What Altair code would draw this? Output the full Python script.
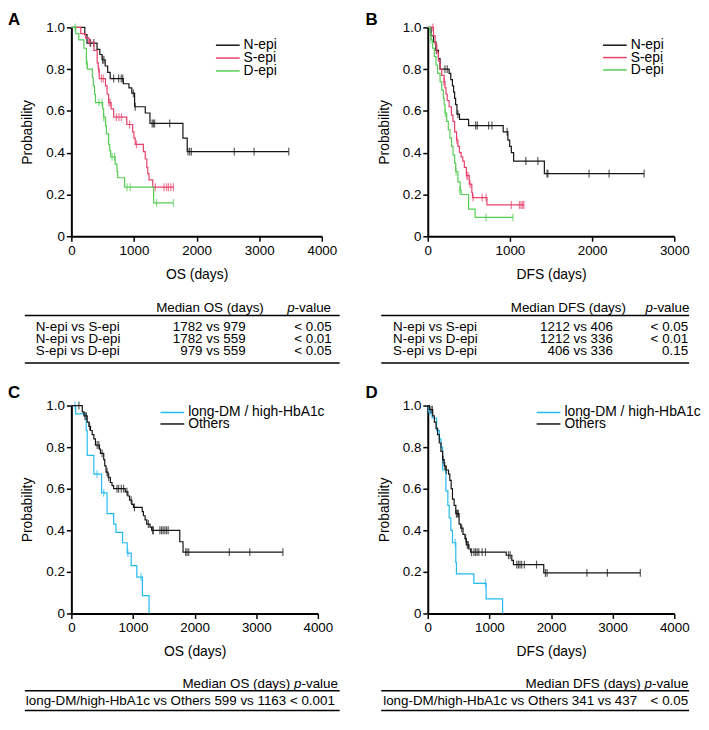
import altair as alt
import pandas as pd

FONT = "Liberation Sans"

# ---------------- Panel A : OS by epi group ----------------
A_N_t = [0, 215, 250, 410, 455, 490, 540, 580, 620, 830, 920, 965, 1010, 1180, 1255, 1782, 1850, 3470]
A_N_s = [1.0, 0.965, 0.925, 0.895, 0.87, 0.845, 0.815, 0.785, 0.755, 0.73, 0.71, 0.685, 0.62, 0.59, 0.54, 0.47, 0.405, 0.405]
A_N_ct = [306, 359, 500, 520, 675, 755, 797, 820, 990, 1020, 1290, 1310, 1330, 1570, 1863, 1889, 1916, 2602, 2918, 3472]
A_N_cs = [0.925, 0.925, 0.845, 0.845, 0.755, 0.755, 0.755, 0.755, 0.685, 0.62, 0.54, 0.54, 0.54, 0.54, 0.405, 0.405, 0.405, 0.405, 0.405, 0.405]

A_S_t = [0, 150, 225, 280, 360, 412, 430, 445, 545, 570, 595, 635, 675, 885, 979, 1000, 1020, 1150, 1180, 1205, 1220, 1240, 1300, 1630]
A_S_s = [1.0, 0.97, 0.95, 0.93, 0.89, 0.83, 0.80, 0.755, 0.72, 0.68, 0.64, 0.61, 0.57, 0.535, 0.50, 0.47, 0.44, 0.405, 0.37, 0.33, 0.30, 0.27, 0.235, 0.235]
A_S_ct = [290, 435, 480, 510, 600, 620, 720, 760, 800, 930, 1040, 1340, 1480, 1520, 1550, 1590, 1630]
A_S_cs = [0.93, 0.80, 0.755, 0.755, 0.64, 0.64, 0.57, 0.57, 0.57, 0.535, 0.44, 0.235, 0.235, 0.235, 0.235, 0.235, 0.235]

A_D_t = [0, 70, 120, 200, 240, 255, 335, 350, 370, 385, 500, 515, 545, 559, 595, 612, 628, 700, 728, 740, 850, 1314, 1620]
A_D_s = [1.0, 0.97, 0.94, 0.90, 0.825, 0.80, 0.76, 0.72, 0.68, 0.64, 0.61, 0.57, 0.53, 0.49, 0.44, 0.41, 0.38, 0.345, 0.31, 0.28, 0.235, 0.16, 0.16]
A_D_ct = [60, 253, 440, 490, 517, 650, 690, 890, 940, 1360, 1630]
A_D_cs = [1.0, 0.825, 0.64, 0.64, 0.57, 0.38, 0.38, 0.235, 0.235, 0.16, 0.16]

# ---------------- Panel B : DFS by epi group ----------------
B_N_t = [0, 40, 70, 100, 130, 150, 260, 280, 300, 315, 327, 339, 355, 386, 497, 918, 975, 997, 1017, 1045, 1419, 2633]
B_N_s = [1.0, 0.96, 0.93, 0.89, 0.85, 0.80, 0.78, 0.75, 0.72, 0.69, 0.66, 0.63, 0.585, 0.56, 0.53, 0.50, 0.46, 0.43, 0.40, 0.36, 0.30, 0.30]
B_N_ct = [105, 209, 237, 367, 583, 603, 741, 781, 966, 1194, 1340, 1451, 1462, 1963, 2207, 2633]
B_N_cs = [0.89, 0.80, 0.80, 0.585, 0.53, 0.53, 0.53, 0.53, 0.50, 0.36, 0.36, 0.30, 0.30, 0.30, 0.30, 0.30]

B_S_t = [0, 70, 90, 110, 130, 150, 170, 200, 210, 222, 237, 260, 288, 307, 327, 350, 367, 386, 406, 426, 445, 470, 505, 536, 544, 720, 1170]
B_S_s = [1.0, 0.96, 0.92, 0.88, 0.84, 0.80, 0.77, 0.74, 0.71, 0.68, 0.65, 0.62, 0.58, 0.55, 0.50, 0.46, 0.43, 0.40, 0.38, 0.36, 0.33, 0.29, 0.25, 0.21, 0.185, 0.15, 0.15]
B_S_ct = [63, 195, 355, 475, 490, 515, 552, 662, 710, 1017, 1116, 1135, 1155, 1170]
B_S_cs = [1.0, 0.74, 0.46, 0.29, 0.29, 0.25, 0.185, 0.185, 0.185, 0.15, 0.15, 0.15, 0.15, 0.15]

B_D_t = [0, 24, 40, 60, 80, 100, 120, 150, 170, 190, 200, 210, 230, 250, 270, 290, 307, 327, 340, 367, 394, 406, 497, 576, 1037]
B_D_s = [1.0, 0.97, 0.94, 0.90, 0.86, 0.82, 0.78, 0.74, 0.70, 0.66, 0.63, 0.59, 0.55, 0.51, 0.47, 0.43, 0.39, 0.35, 0.31, 0.26, 0.22, 0.20, 0.13, 0.09, 0.09]
B_D_ct = [39, 215, 345, 390, 710, 1037]
B_D_cs = [0.94, 0.59, 0.31, 0.22, 0.09, 0.09]

# ---------------- Panel C : OS by DM status ----------------
C_L_t = [0, 70, 241, 257, 365, 490, 579, 686, 724, 831, 906, 971, 1062, 1153, 1260]
C_L_s = [1.0, 0.96, 0.88, 0.76, 0.67, 0.58, 0.48, 0.43, 0.39, 0.34, 0.29, 0.23, 0.175, 0.086, 0.0]
C_L_ct = [59, 418, 525, 917, 1131]
C_L_cs = [1.0, 0.67, 0.58, 0.29, 0.175]

C_O_t = [0, 177, 204, 257, 284, 311, 338, 365, 391, 456, 472, 525, 542, 563, 595, 633, 660, 686, 874, 917, 944, 981, 1008, 1150, 1169, 1196, 1223, 1276, 1303, 1759, 1812, 3432]
C_O_s = [1.0, 0.97, 0.95, 0.92, 0.90, 0.88, 0.86, 0.84, 0.81, 0.79, 0.77, 0.74, 0.71, 0.68, 0.655, 0.63, 0.615, 0.60, 0.585, 0.565, 0.545, 0.525, 0.51, 0.49, 0.47, 0.45, 0.43, 0.415, 0.40, 0.345, 0.295, 0.295]
C_O_ct = [123, 220, 241, 295, 418, 445, 499, 579, 606, 740, 767, 810, 847, 901, 971, 1024, 1249, 1319, 1330, 1437, 1464, 1490, 1517, 1544, 1571, 1855, 1877, 1904, 2563, 2896, 3432]
C_O_cs = [1.0, 0.95, 0.95, 0.90, 0.81, 0.81, 0.77, 0.68, 0.655, 0.60, 0.60, 0.60, 0.60, 0.585, 0.545, 0.51, 0.43, 0.40, 0.40, 0.40, 0.40, 0.40, 0.40, 0.40, 0.40, 0.295, 0.295, 0.295, 0.295, 0.295, 0.295]

# ---------------- Panel D : DFS by DM status ----------------
D_L_t = [0, 16, 70, 144, 187, 214, 241, 294, 326, 348, 374, 401, 455, 465, 749, 947, 1214]
D_L_s = [1.0, 0.97, 0.94, 0.88, 0.84, 0.80, 0.69, 0.59, 0.52, 0.46, 0.40, 0.34, 0.245, 0.19, 0.145, 0.07, 0.0]
D_L_ct = [37, 444, 936]
D_L_cs = [0.97, 0.34, 0.145]

D_O_t = [0, 27, 80, 107, 134, 160, 187, 214, 241, 267, 294, 337, 358, 380, 401, 428, 455, 508, 535, 572, 604, 626, 668, 695, 1273, 1364, 1390, 1882, 3449]
D_O_s = [1.0, 0.98, 0.95, 0.92, 0.89, 0.86, 0.82, 0.78, 0.74, 0.71, 0.69, 0.67, 0.64, 0.60, 0.55, 0.52, 0.48, 0.43, 0.41, 0.38, 0.36, 0.33, 0.31, 0.295, 0.28, 0.255, 0.235, 0.195, 0.195]
D_O_ct = [53, 75, 250, 275, 300, 465, 481, 497, 551, 615, 642, 658, 711, 749, 775, 802, 829, 882, 936, 1310, 1337, 1444, 1471, 1497, 1524, 1567, 1765, 1909, 1936, 2583, 2915, 3449]
D_O_cs = [0.98, 0.98, 0.74, 0.71, 0.69, 0.48, 0.48, 0.48, 0.41, 0.36, 0.33, 0.33, 0.295, 0.295, 0.295, 0.295, 0.295, 0.295, 0.295, 0.28, 0.28, 0.235, 0.235, 0.235, 0.235, 0.235, 0.235, 0.195, 0.195, 0.195, 0.195, 0.195]

# ---------------- Tables ----------------
TA_head = "Median OS (days)"
TA_rows = ["N-epi vs S-epi", "N-epi vs D-epi", "S-epi vs D-epi"]
TA_med = ["1782 vs 979", "1782 vs 559", "979 vs 559"]
TA_p = ["< 0.05", "< 0.01", "< 0.05"]

TB_head = "Median DFS (days)"
TB_rows = ["N-epi vs S-epi", "N-epi vs D-epi", "S-epi vs D-epi"]
TB_med = ["1212 vs 406", "1212 vs 336", "406 vs 336"]
TB_p = ["< 0.05", "< 0.01", "0.15"]

TC_head = "Median OS (days)"
TC_row = "long-DM/high-HbA1c vs Others 599 vs 1163 < 0.001"

TD_head = "Median DFS (days)"
TD_row = "long-DM/high-HbA1c vs Others 341 vs 437"
TD_p = "< 0.05"

BLACK = "#151515"
RED = "#e8416a"
GREEN = "#55cd55"
CYAN = "#22bbf0"

W_A, H_A = 253, 211
W_B, H_B = 249, 211
W_C, H_C = 249, 210
W_D, H_D = 249, 210
COL_GAP = 107
TAB_H1 = 171
TAB_H2 = 98
TXT = 13.5


def const_text(text, x, y, size=TXT, align="left", baseline="middle",
               weight="normal", style="normal", color="#000"):
    return alt.Chart(pd.DataFrame({"label": [text]})).mark_text(
        font=FONT, fontSize=size, align=align, baseline=baseline,
        fontWeight=weight, fontStyle=style, color=color
    ).encode(text="label:N", x=alt.value(x), y=alt.value(y))


def hline(x1, x2, y, width=1.6, color="#000"):
    return alt.Chart(pd.DataFrame({"k": [0]})).mark_rule(
        strokeWidth=width, color=color
    ).encode(x=alt.value(x1), x2=alt.value(x2), y=alt.value(y))


def km_panel(curves, xmax, xtitle, w, h, leg_x, leg_y, leg_dy, label, lab_x, lab_y):
    xs = alt.Scale(domain=[0, xmax], nice=False, zero=True)
    ys = alt.Scale(domain=[0, 1], nice=False)
    xaxis = alt.Axis(title=xtitle, values=list(range(0, xmax + 1, 1000)), format="d",
                     labelFlush=False, labelOverlap=False, grid=False)
    yaxis = alt.Axis(title="Probability", values=[0, 0.2, 0.4, 0.6, 0.8, 1.0],
                     labelExpr="datum.value == 0 ? '0' : format(datum.value, '.1f')",
                     labelFlush=False, labelOverlap=False, grid=False)
    layers = []
    for name, color, t, s, ct, cs in curves:
        df = pd.DataFrame({"t": t, "s": s})
        layers.append(
            alt.Chart(df).mark_line(interpolate="step-after", strokeWidth=1.2, color=color).encode(
                x=alt.X("t:Q", scale=xs, axis=xaxis),
                y=alt.Y("s:Q", scale=ys, axis=yaxis),
            )
        )
        cdf = pd.DataFrame({"t": ct, "s": cs})
        layers.append(
            alt.Chart(cdf).mark_tick(orient="vertical", size=8, thickness=1.2, color=color).encode(
                x=alt.X("t:Q", scale=xs, axis=xaxis),
                y=alt.Y("s:Q", scale=ys, axis=yaxis),
            )
        )
    for i, (name, color, *_rest) in enumerate(curves):
        yy = leg_y + i * leg_dy
        layers.append(hline(leg_x, leg_x + 24, yy, width=1.5, color=color))
        layers.append(const_text(name, leg_x + 28, yy, size=14))
    layers.append(const_text(label, lab_x, lab_y, size=17, weight="bold", baseline="top"))
    return alt.layer(*layers).properties(width=w, height=h)


pA = km_panel([("N-epi", BLACK, A_N_t, A_N_s, A_N_ct, A_N_cs),
               ("S-epi", RED, A_S_t, A_S_s, A_S_ct, A_S_cs),
               ("D-epi", GREEN, A_D_t, A_D_s, A_D_ct, A_D_cs)],
              4000, "OS (days)", W_A, H_A, 146, 18, 13, "A", -64, -15)

pB = km_panel([("N-epi", BLACK, B_N_t, B_N_s, B_N_ct, B_N_cs),
               ("S-epi", RED, B_S_t, B_S_s, B_S_ct, B_S_cs),
               ("D-epi", GREEN, B_D_t, B_D_s, B_D_ct, B_D_cs)],
              3000, "DFS (days)", W_B, H_B, 177, 18, 12.5, "B", -63, -15)

pC = km_panel([("long-DM / high-HbA1c", CYAN, C_L_t, C_L_s, C_L_ct, C_L_cs),
               ("Others", BLACK, C_O_t, C_O_s, C_O_ct, C_O_cs)],
              4000, "OS (days)", W_C, H_C, 90, 7, 11.6, "C", -64, -21)

pD = km_panel([("long-DM / high-HbA1c", CYAN, D_L_t, D_L_s, D_L_ct, D_L_cs),
               ("Others", BLACK, D_O_t, D_O_s, D_O_ct, D_O_cs)],
              4000, "DFS (days)", W_D, H_D, 110, 7, 11.6, "D", -63, -21)


def table3(head, head_cx, p_x, rows, meds, ps, x_left_line, x_right_line,
           x_rows, x_med, x_p, w, h):
    layers = [
        const_text(head, head_cx, 72, align="center"),
        const_text("p", p_x, 72, style="italic"),
        const_text("-value", p_x + 7.5, 72),
        hline(x_left_line, x_right_line, 80),
        hline(x_left_line, x_right_line, 128),
    ]
    for i, (r, m, p) in enumerate(zip(rows, meds, ps)):
        yy = 92 + 12 * i
        layers.append(const_text(r, x_rows, yy))
        layers.append(const_text(m, x_med, yy, align="right"))
        layers.append(const_text(p, x_p, yy, align="right"))
    return alt.layer(*layers).properties(width=w, height=h)


tA = table3(TA_head, 140, 218, TA_rows, TA_med, TA_p, -47, 271, -36, 176, 263, W_A, TAB_H1)
tB = table3(TB_head, 142, 220, TB_rows, TB_med, TB_p, -47, 264, -35, 187, 263, W_B, TAB_H1)

tC = alt.layer(
    const_text(TC_head, 221, 71, align="right"),
    const_text("p", 225, 71, style="italic"),
    const_text("-value", 232.5, 71),
    hline(-47, 271, 78),
    const_text(TC_row, -46, 88.5),
    hline(-47, 271, 98),
).properties(width=W_C, height=TAB_H2)

tD = alt.layer(
    const_text(TD_head, 215, 71, align="right"),
    const_text("p", 219, 71, style="italic"),
    const_text("-value", 226.5, 71),
    hline(-47, 264, 78),
    const_text(TD_row, -45, 88.5),
    const_text(TD_p, 263, 88.5, align="right"),
    hline(-47, 264, 98),
).properties(width=W_D, height=TAB_H2)

chart = alt.concat(
    pA, pB, tA, tB, pC, pD, tC, tD,
    columns=2,
    spacing={"row": 0, "column": COL_GAP},
    bounds="flush",
    align="each",
    padding={"left": 0, "top": 0, "right": 0, "bottom": 0},
).configure_view(stroke=None).configure_axis(
    domainColor="#000", domainWidth=2, tickColor="#000", tickWidth=1.5, tickSize=5,
    labelFont=FONT, labelFontSize=13.5, labelColor="#000", labelPadding=2,
    titleFont=FONT, titleFontSize=14, titleFontWeight="normal", titleColor="#000",
    titlePadding=11,
)

chart.save("out.html", embed_options={"renderer": "svg", "actions": False})
